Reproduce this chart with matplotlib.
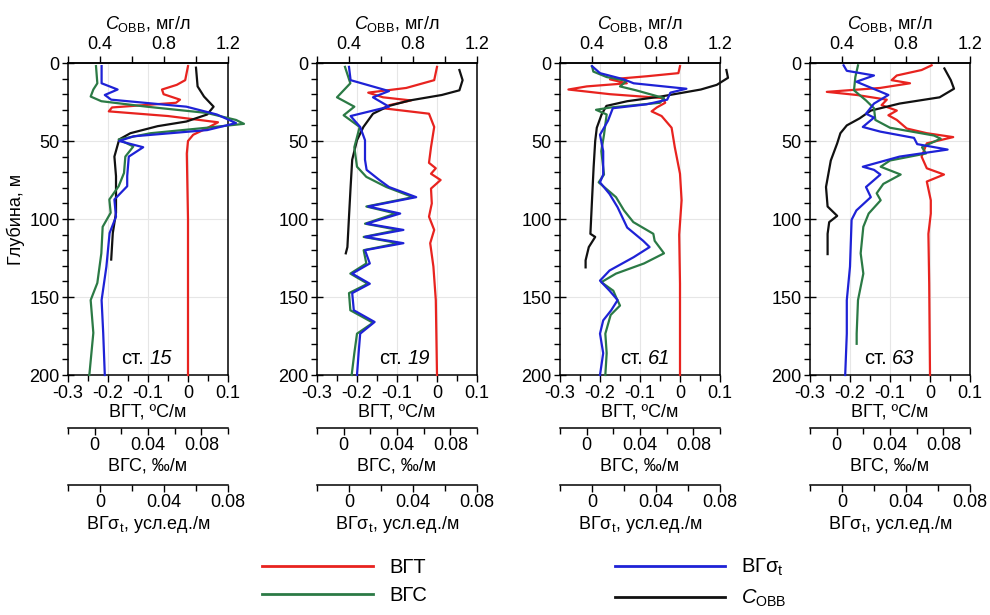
import matplotlib
matplotlib.use('Agg')
import matplotlib.pyplot as plt
from matplotlib.ticker import MultipleLocator, FixedLocator, FuncFormatter
from matplotlib.lines import Line2D

plt.rcParams['font.family'] = ['Liberation Sans', 'DejaVu Sans']
plt.rcParams['mathtext.fontset'] = 'custom'
plt.rcParams['mathtext.rm'] = 'Liberation Sans'
plt.rcParams['mathtext.it'] = 'Liberation Sans:italic'
plt.rcParams['mathtext.bf'] = 'Liberation Sans:bold'
plt.rcParams['axes.unicode_minus'] = False

stations = ['15', '19', '61', '63']

# --- ст. 15 ---
vgt_d15 = [2, 11, 14, 17, 20, 23.5, 25.5, 28.5, 31, 34, 38, 42, 46, 50, 58, 100, 150, 200]
vgt15 = [0.0, -0.007, -0.028, -0.065, -0.061, -0.020, -0.030, -0.190, -0.198, -0.050,
         0.075, 0.046, 0.013, 0.0, -0.003, 0.0, 0.0, 0.0]
vgs_d15 = [2, 13, 17, 21.5, 24.5, 28, 32, 36.5, 39, 41.5, 45, 49, 53.5, 60, 70.5, 79,
           87.5, 96, 105, 122, 141, 152, 173, 200]
vgs15 = [0.001, 0.002, -0.001, -0.003, 0.005, 0.039, 0.084, 0.106, 0.112, 0.084, 0.042,
         0.018, 0.029, 0.023, 0.022, 0.018, 0.011, 0.012, 0.006, 0.005, 0.002, -0.003,
         -0.001, -0.004]
vgsig_d15 = [2, 13, 17, 20.5, 23.5, 28, 33, 38.5, 43, 47, 50, 54, 60, 72.5, 79, 87.5,
             98.5, 109, 130.5, 152, 173, 200]
vgsig15 = [0.001, 0.001, 0.011, 0.003, 0.007, 0.054, 0.073, 0.085, 0.067, 0.021, 0.012,
           0.027, 0.018, 0.017, 0.017, 0.009, 0.010, 0.006, 0.004, 0.001, 0.002, 0.003]
cobb_d15 = [3, 15, 21.5, 28, 33, 37.5, 40.5, 45, 49, 60, 72.5, 83.5, 96, 109, 126]
cobb15 = [1.00, 1.01, 1.05, 1.11, 1.07, 0.94, 0.76, 0.59, 0.52, 0.49, 0.50, 0.50, 0.50,
          0.48, 0.47]

# --- ст. 19 ---
vgt_d19 = [2.5, 11, 16, 19, 22, 24, 27, 29, 32.5, 41, 54, 64, 67.5, 71, 75, 80.5, 90,
           98.5, 107, 115.5, 130.5, 152, 200]
vgt19 = [0.0, -0.007, -0.077, -0.172, -0.135, -0.065, -0.119, -0.135, -0.020, -0.007,
         -0.015, -0.020, -0.003, -0.015, 0.009, -0.015, -0.013, -0.020, -0.007, -0.017,
         -0.009, -0.003, 0.0]
vgs_d19 = [2.5, 13, 22, 28, 33.5, 41, 54, 66.5, 73, 79.5, 86, 92, 96.5, 103, 107, 111.5,
           115.5, 120, 128.5, 135, 141.5, 147.5, 158.5, 166.5, 173.5, 186, 200]
vgs19 = [0.001, 0.005, -0.005, 0.008, 0.000, 0.012, 0.008, 0.010, 0.017, 0.032, 0.052,
         0.017, 0.039, 0.016, 0.041, 0.015, 0.041, 0.015, 0.017, 0.005, 0.018, 0.004,
         0.005, 0.022, 0.010, 0.008, 0.006]
vgsig_d19 = [2.5, 11, 18, 22, 28, 34, 41, 49.5, 62, 68.5, 75, 79.5, 86, 92, 96.5, 103,
             107, 111.5, 115.5, 120, 128.5, 135, 141.5, 147.5, 158.5, 166, 173.5, 186, 200]
vgsig19 = [0.000, 0.001, 0.025, 0.015, 0.025, 0.001, 0.007, 0.010, 0.010, 0.011, 0.019,
           0.025, 0.042, 0.012, 0.032, 0.011, 0.034, 0.010, 0.034, 0.010, 0.013, 0.002,
           0.013, 0.002, 0.003, 0.016, 0.007, 0.006, 0.005]
cobb_d19 = [4.5, 11, 17.5, 20.5, 24, 27.5, 32.5, 41, 49.5, 62, 79.5, 98.5, 118, 122]
cobb19 = [1.09, 1.11, 1.09, 0.98, 0.78, 0.65, 0.55, 0.49, 0.45, 0.42, 0.41, 0.40, 0.39, 0.38]

# --- ст. 61 ---
vgt_d61 = [2, 6.5, 8.5, 10.5, 13, 15, 17, 20, 22.5, 25.5, 28.5, 31, 34, 41.5, 54, 71, 88,
           110, 141.5, 200]
vgt61 = [0.0, -0.004, -0.083, -0.175, -0.133, -0.233, -0.279, -0.175, -0.042, -0.037,
         -0.058, -0.071, -0.046, -0.021, -0.013, 0.0, 0.004, -0.002, 0.0, 0.0]
vgs_d61 = [2, 5.5, 9, 11.5, 15, 17.5, 22.5, 25.5, 28.5, 30, 33, 46, 56.5, 71.5, 76.5, 86,
           94.5, 102, 109.5, 114, 122, 128.5, 135, 140.5, 146, 150, 155.5, 161.5, 173.5,
           186, 200]
vgs61 = [0.004, 0.005, 0.015, 0.030, 0.025, 0.037, 0.058, 0.055, 0.018, 0.007, 0.015,
         0.013, 0.011, 0.013, 0.009, 0.022, 0.028, 0.035, 0.050, 0.051, 0.058, 0.043,
         0.022, 0.011, 0.020, 0.022, 0.025, 0.018, 0.014, 0.015, 0.014]
vgsig_d61 = [2, 6.5, 10.5, 13, 16.5, 19, 23.5, 26.5, 29, 37, 46, 56.5, 71.5, 76.5, 84,
             92.5, 105.5, 114, 118, 124.5, 133, 139.5, 146, 152, 158.5, 165, 173.5, 186, 200]
vgsig61 = [0.000, 0.005, 0.020, 0.026, 0.059, 0.049, 0.047, 0.034, 0.013, 0.010, 0.005,
           0.007, 0.007, 0.005, 0.011, 0.016, 0.022, 0.032, 0.036, 0.026, 0.011, 0.005,
           0.011, 0.016, 0.012, 0.007, 0.005, 0.007, 0.005]
cobb_d61 = [4.5, 9.5, 14, 17, 21.5, 24.5, 27.5, 33, 41.5, 50, 67, 88, 109.5, 111.5, 118,
            126.5, 131]
cobb61 = [1.24, 1.25, 1.18, 1.08, 0.83, 0.62, 0.49, 0.46, 0.43, 0.42, 0.41, 0.40, 0.39,
          0.42, 0.38, 0.36, 0.36]

# --- ст. 63 ---
vgt_d63 = [1.5, 4.5, 8, 11, 13, 16, 18.5, 20.5, 23.5, 27, 30.5, 33.5, 36.5, 42, 45, 47.5,
           51.5, 60, 67.5, 71.5, 76, 88, 96.5, 109.5, 141.5, 200]
vgt63 = [0.004, -0.021, -0.083, -0.096, -0.050, -0.125, -0.258, -0.183, -0.108, -0.121,
         -0.083, -0.104, -0.083, -0.058, -0.008, 0.058, -0.008, -0.021, -0.008, 0.035,
         -0.008, 0.002, 0.002, -0.004, -0.002, 0.0]
vgs_d63 = [1.5, 9, 17.5, 24, 29, 36.5, 41.5, 46.5, 48.5, 54, 58, 62.5, 66.5, 71.5, 77.5,
           83.5, 88, 96.5, 105, 122, 135, 152, 173.5, 180]
vgs63 = [0.016, 0.014, 0.013, 0.022, 0.028, 0.029, 0.040, 0.073, 0.078, 0.064, 0.067,
         0.040, 0.033, 0.048, 0.035, 0.030, 0.033, 0.024, 0.020, 0.018, 0.020, 0.016,
         0.015, 0.015]
vgsig_d63 = [1.5, 5, 8, 12, 20.5, 26, 32.5, 35, 41, 44, 48, 52, 55.5, 60, 66.5, 68.5,
             71.5, 79.5, 86, 94.5, 100.5, 130.5, 152, 173.5, 200]
vgsig63 = [0.001, 0.003, 0.020, 0.009, 0.029, 0.020, 0.015, 0.020, 0.013, 0.024, 0.045,
           0.047, 0.066, 0.036, 0.013, 0.020, 0.024, 0.015, 0.018, 0.009, 0.006, 0.005,
           0.003, 0.003, 0.002]
cobb_d63 = [3.5, 11, 16.5, 22, 26, 30.5, 35.5, 40, 45, 51.5, 62.5, 79.5, 92, 98, 102,
            109.5, 122.5]
cobb63 = [1.04, 1.08, 1.10, 1.01, 0.76, 0.58, 0.51, 0.43, 0.39, 0.37, 0.33, 0.30, 0.31,
          0.37, 0.32, 0.31, 0.31]

vgt_all = [(vgt_d15, vgt15), (vgt_d19, vgt19), (vgt_d61, vgt61), (vgt_d63, vgt63)]
vgs_all = [(vgs_d15, vgs15), (vgs_d19, vgs19), (vgs_d61, vgs61), (vgs_d63, vgs63)]
vgsig_all = [(vgsig_d15, vgsig15), (vgsig_d19, vgsig19), (vgsig_d61, vgsig61),
             (vgsig_d63, vgsig63)]
cobb_all = [(cobb_d15, cobb15), (cobb_d19, cobb19), (cobb_d61, cobb61), (cobb_d63, cobb63)]

RED = '#e8231f'
GREEN = '#2b7a45'
BLUE = '#1e22d6'
BLACK = '#111111'
LW = 1.6
FS = 13

fmt = FuncFormatter(lambda v, p: f'{v:g}')

fig = plt.figure(figsize=(9.9, 6.15), dpi=100)

lefts = [68, 317, 560, 810]
label_x = [0.495, 0.55, 0.535, 0.5]

for i, st in enumerate(stations):
    ax = fig.add_axes([lefts[i] / 990, 240 / 615, 160 / 990, 312 / 615])

    # main axis: ВГТ
    ax.set_ylim(200, 0)
    ax.set_xlim(-0.3, 0.1)
    ax.xaxis.set_major_locator(FixedLocator([-0.3, -0.2, -0.1, 0, 0.1]))
    ax.xaxis.set_minor_locator(MultipleLocator(0.05))
    ax.xaxis.set_major_formatter(fmt)
    ax.yaxis.set_major_locator(MultipleLocator(50))
    ax.yaxis.set_minor_locator(MultipleLocator(10))
    ax.grid(True, which='major', color='#e6e6e6', lw=0.8)
    ax.set_axisbelow(True)
    ax.tick_params(which='major', direction='inout', length=8, width=1, labelsize=FS, pad=2)
    ax.tick_params(which='minor', direction='out', length=4, width=1)
    ax.tick_params(axis='x', which='major', direction='out', length=5)
    for sp in ax.spines.values():
        sp.set_linewidth(1.1)
    ax.set_xlabel('ВГТ, ºС/м', fontsize=FS, labelpad=1)
    if i == 0:
        ax.set_ylabel('Глубина, м', fontsize=FS, labelpad=3)

    # top axis: C_ОВВ
    axc = ax.twiny()
    axc.set_xlim(0.2, 1.2)
    axc.xaxis.set_major_locator(FixedLocator([0.4, 0.8, 1.2]))
    axc.xaxis.set_minor_locator(MultipleLocator(0.2))
    axc.xaxis.set_major_formatter(fmt)
    axc.tick_params(which='major', direction='out', length=5, width=1, labelsize=FS, pad=2)
    axc.tick_params(which='minor', direction='out', length=5, width=1)
    for k in ['left', 'right', 'bottom']:
        axc.spines[k].set_visible(False)
    axc.spines['top'].set_linewidth(1.1)
    axc.set_xlabel(r'$C_{\mathrm{ОВВ}}$, мг/л', fontsize=FS, labelpad=5)

    # extra bottom axes: ВГС and ВГσt
    axs = ax.twiny()
    axs.set_xlim(-0.02, 0.1)
    axg = ax.twiny()
    axg.set_xlim(-0.02, 0.08)
    for a, off, lab in [(axs, 38, 'ВГС, ‰/м'), (axg, 79, r'ВГ$\mathrm{σ_t}$, усл.ед./м')]:
        a.xaxis.set_ticks_position('bottom')
        a.xaxis.set_label_position('bottom')
        for k in ['left', 'right', 'top']:
            a.spines[k].set_visible(False)
        a.spines['bottom'].set_position(('outward', off))
        a.spines['bottom'].set_linewidth(1.1)
        a.xaxis.set_major_locator(FixedLocator([0, 0.04, 0.08]))
        a.xaxis.set_minor_locator(MultipleLocator(0.02))
        a.xaxis.set_major_formatter(fmt)
        a.tick_params(which='major', direction='out', length=5, width=1, labelsize=FS, pad=2)
        a.tick_params(which='minor', direction='out', length=4, width=1)
        a.set_xlabel(lab, fontsize=FS, labelpad=2)

    d, v = vgt_all[i]
    ax.plot(v, d, color=RED, lw=LW, clip_on=False, zorder=3)
    d, v = vgs_all[i]
    axs.plot(v, d, color=GREEN, lw=LW, clip_on=False, zorder=3)
    d, v = vgsig_all[i]
    axg.plot(v, d, color=BLUE, lw=LW, clip_on=False, zorder=3)
    d, v = cobb_all[i]
    axc.plot(v, d, color=BLACK, lw=LW, clip_on=False, zorder=3)

    # station label: "ст." upright, number italic
    ax.text(label_x[i] - 0.02, 0.035, 'ст.', transform=ax.transAxes,
            ha='right', va='baseline', fontsize=14.5, zorder=5)
    ax.annotate(st, xy=(label_x[i] - 0.02, 0.035), xycoords='axes fraction',
                xytext=(4, 0), textcoords='offset points', ha='left', va='baseline',
                fontsize=14.5, style='italic', zorder=5)

handles = [Line2D([], [], color=RED, lw=2),
           Line2D([], [], color=GREEN, lw=2),
           Line2D([], [], color=BLUE, lw=2),
           Line2D([], [], color=BLACK, lw=2)]
labels = ['ВГТ', 'ВГС', r'ВГ$\mathrm{σ_t}$', r'$C_{\mathrm{ОВВ}}$']
fig.legend(handles, labels, loc='center', bbox_to_anchor=(0.53, 0.052), ncol=2,
           frameon=False, fontsize=14.5, handlelength=5.5, columnspacing=9.3,
           labelspacing=0.45, handletextpad=0.8)

fig.savefig('out.png', dpi=100)
